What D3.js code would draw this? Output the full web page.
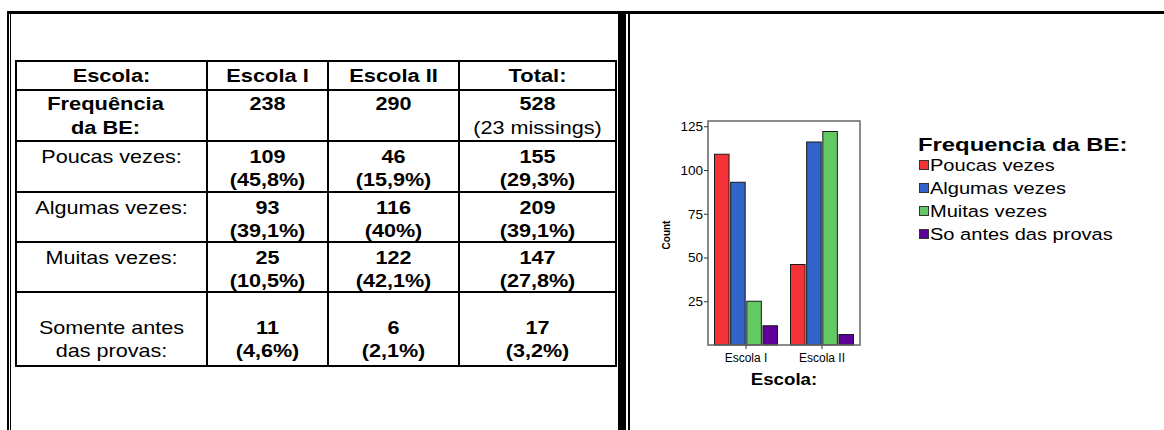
<!DOCTYPE html>
<html>
<head>
<meta charset="utf-8">
<script src="https://cdn.jsdelivr.net/npm/d3@7"></script>
<style>
  body { margin: 0; background: #fff; }
  svg text { font-family: Arial, "Liberation Sans", sans-serif; fill: #000; }
</style>
</head>
<body>
<svg id="page" width="1164" height="430"></svg>
<script>
// table data
var header = ["Escola:", "Escola I", "Escola II", "Total:"];
var freqLabel = ["Frequência", "da BE:"];
var schoolTotals = [238, 290, 528];
var missingNote = "(23 missings)";
var rowLabels = [["Poucas vezes:"], ["Algumas vezes:"], ["Muitas vezes:"], ["Somente antes", "das provas:"]];
var counts = [[109, 46, 155], [93, 116, 209], [25, 122, 147], [11, 6, 17]];
var pcts = [["45,8%", "15,9%", "29,3%"], ["39,1%", "40%", "39,1%"], ["10,5%", "42,1%", "27,8%"], ["4,6%", "2,1%", "3,2%"]];

// chart data
var schools = ["Escola I", "Escola II"];
var categories = ["Poucas vezes", "Algumas vezes", "Muitas vezes", "So antes das provas"];
var colors = ["#f53237", "#3163c9", "#63c963", "#5d009a"];
var yTicks = [25, 50, 75, 100, 125];

var svg = d3.select("#page");

function label(g, x, y, text, o) {
  o = o || {};
  g.append("text")
      .attr("transform", "translate(" + x + "," + y + ") scale(" + (o.sx || 1) + ",1)")
      .attr("font-size", o.size || 18)
      .attr("font-weight", o.bold ? "bold" : "normal")
      .style("text-anchor", o.anchor || "middle")
      .text(text);
}

// page frame
var frame = svg.append("g");
frame.append("rect").attr("x", 7).attr("y", 11).attr("width", 1157).attr("height", 3);
frame.append("rect").attr("x", 7).attr("y", 11).attr("width", 2).attr("height", 419);
frame.append("rect").attr("x", 10).attr("y", 11).attr("width", 1).attr("height", 419);
frame.append("rect").attr("x", 618).attr("y", 11).attr("width", 8).attr("height", 419);
frame.append("rect").attr("x", 628).attr("y", 11).attr("width", 2).attr("height", 419);

// table
var colEdges = [16, 207, 328, 459, 616];
var rowEdges = [61, 90, 141, 192, 242, 292, 366];
var tbl = svg.append("g");

rowEdges.forEach(y => {
  tbl.append("line").attr("x1", colEdges[0] - 1).attr("x2", colEdges[4] + 1)
      .attr("y1", y).attr("y2", y).attr("stroke", "#000").attr("stroke-width", 2);
});
colEdges.forEach(x => {
  tbl.append("line").attr("x1", x).attr("x2", x)
      .attr("y1", rowEdges[0]).attr("y2", rowEdges[6]).attr("stroke", "#000").attr("stroke-width", 2);
});

var colMid = d3.range(4).map(i => (colEdges[i] + colEdges[i + 1]) / 2);
var bigB = { bold: true, size: 19, sx: 1.15 };
var numB = { bold: true, size: 18, sx: 1.2 };
var bigR = { bold: false, size: 18, sx: 1.2 };

header.forEach((h, i) => label(tbl, colMid[i], 82, h, bigB));

label(tbl, colMid[0] - 6, 110, freqLabel[0], bigB);
label(tbl, colMid[0] - 6, 134, freqLabel[1], bigB);
schoolTotals.forEach((v, i) => label(tbl, colMid[i + 1], 110, v, numB));
label(tbl, colMid[3], 134, missingNote, bigR);

rowLabels.forEach((lines, r) => {
  var top = rowEdges[r + 2];
  var off = lines.length > 1 ? 42 : 22;
  lines.forEach((t, k) => label(tbl, colMid[0], top + off + k * 23, t, bigR));
  counts[r].forEach((v, c) => {
    label(tbl, colMid[c + 1], top + off, v, numB);
    label(tbl, colMid[c + 1], top + off + 23, "(" + pcts[r][c] + ")", numB);
  });
});

// bar chart
var plot = { left: 708, right: 860, top: 121, bottom: 345 };
var chart = svg.append("g");

var x0 = d3.scaleBand().domain(schools).range([plot.left, plot.right]);
var x1 = d3.scaleBand().domain(categories).range([6.5, 69.5]).paddingInner(0.1);
var y = d3.scaleLinear().domain([0, 128]).range([plot.bottom, plot.top]);
var color = d3.scaleOrdinal().domain(categories).range(colors);

var barData = [];
schools.forEach((s, si) => {
  categories.forEach((c, ci) => barData.push({ school: s, cat: c, value: counts[ci][si] }));
});

chart.selectAll(".bar")
  .data(barData)
  .enter()
  .append("rect")
    .classed("bar", true)
    .attr("x", d => x0(d.school) + x1(d.cat))
    .attr("y", d => y(d.value))
    .attr("width", x1.bandwidth())
    .attr("height", d => y(0) - y(d.value))
    .attr("fill", d => color(d.cat))
    .attr("stroke", "#1a1a1a")
    .attr("stroke-width", 1);

chart.append("rect")
    .attr("x", plot.left).attr("y", plot.top)
    .attr("width", plot.right - plot.left).attr("height", plot.bottom - plot.top)
    .attr("fill", "none").attr("stroke", "#666").attr("stroke-width", 1.5);

var yAxis = chart.append("g")
    .attr("transform", "translate(" + plot.left + ",0)")
    .call(d3.axisLeft(y).tickValues(yTicks).tickSize(4).tickPadding(1));
yAxis.select(".domain").remove();
yAxis.selectAll("line").attr("stroke", "#333");
yAxis.selectAll("text").attr("font-size", 13.5).attr("font-family", "Arial, 'Liberation Sans', sans-serif");

var xAxis = chart.append("g")
    .attr("transform", "translate(0," + plot.bottom + ")")
    .call(d3.axisBottom(x0).tickSize(4).tickPadding(4));
xAxis.select(".domain").remove();
xAxis.selectAll("line").attr("stroke", "#333");
xAxis.selectAll("text").attr("font-size", 12).attr("font-family", "Arial, 'Liberation Sans', sans-serif");

label(chart, (plot.left + plot.right) / 2, 385, "Escola:", { bold: true, size: 17, sx: 1.1 });

chart.append("text")
    .attr("transform", "translate(670,235) rotate(-90)")
    .attr("font-size", 10)
    .attr("font-weight", "bold")
    .style("text-anchor", "middle")
    .text("Count");

// legend
var legend = svg.append("g");
label(legend, 918, 151, "Frequencia da BE:", { bold: true, size: 18.5, sx: 1.29, anchor: "start" });
var legendRow = legend.selectAll(".legend-item")
  .data(categories)
  .enter()
  .append("g")
    .classed("legend-item", true)
    .attr("transform", (d, i) => "translate(918," + (165 + i * 23) + ")");
legendRow.append("rect")
    .attr("x", 1.5).attr("y", -4.5).attr("width", 9).attr("height", 9)
    .attr("fill", d => color(d)).attr("stroke", "#333");
legendRow.each(function(d) {
  label(d3.select(this), 12, 6, d, { size: 17, sx: 1.18, anchor: "start" });
});
</script>
</body>
</html>
